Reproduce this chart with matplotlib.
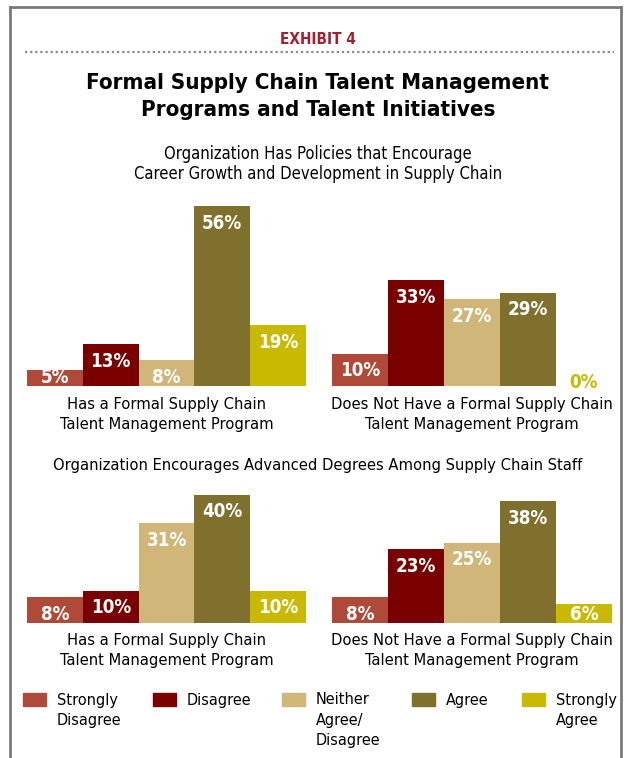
import numpy as np
import matplotlib.pyplot as plt
from matplotlib.patches import Rectangle
from matplotlib.lines import Line2D

plt.rcParams['font.family'] = 'DejaVu Sans'
plt.rcParams['font.stretch'] = 'condensed'

# responses
responses = ['Strongly\nDisagree', 'Disagree', 'Neither\nAgree/\nDisagree', 'Agree', 'Strongly\nAgree']
colors = ['#b04a38', '#7a0000', '#d0b679', '#80702e', '#c9b900']

groups = ['Has a Formal Supply Chain\nTalent Management Program',
          'Does Not Have a Formal Supply Chain\nTalent Management Program']

# Organization Has Policies that Encourage Career Growth ...
policies_has = [5, 13, 8, 56, 19]
policies_not = [10, 33, 27, 29, 0]
# Organization Encourages Advanced Degrees ...
degrees_has = [8, 10, 31, 40, 10]
degrees_not = [8, 23, 25, 38, 6]

W, H = 627, 758
fig = plt.figure(figsize=(W / 100, H / 100), dpi=100)


def fx(x):
    return x / W


def fy(y):
    return 1 - y / H


def lines(x, y, txt, step, **kw):
    # one text per line so the spacing is under control
    for k, s in enumerate(txt.split('\n')):
        fig.text(fx(x), fy(y + k * step), s, va='center', **kw)


# frame
fig.add_artist(Line2D([fx(10), fx(621)], [fy(7), fy(7)], color='#7a7a7a', lw=2))
fig.add_artist(Line2D([fx(10), fx(10)], [fy(7), 0], color='#7a7a7a', lw=2))
fig.add_artist(Line2D([fx(621), fx(621)], [fy(7), 0], color='#7a7a7a', lw=2))
# dotted rule
fig.add_artist(Line2D([fx(25), fx(614)], [fy(52), fy(52)], color='#8a8a8a', lw=1.6,
                      linestyle=(0, (1, 1.3))))

lines(318, 39, 'EXHIBIT 4', 20, ha='center', color='#a3202e', fontsize=11, fontweight='bold')
lines(318, 83, 'Formal Supply Chain Talent Management\nPrograms and Talent Initiatives', 27,
      ha='center', fontsize=16, fontweight='bold')
lines(318, 154, 'Organization Has Policies that Encourage\nCareer Growth and Development in Supply Chain', 20,
      ha='center', fontsize=11.9)
lines(318, 465, 'Organization Encourages Advanced Degrees Among Supply Chain Staff', 20,
      ha='center', fontsize=11.8)

px_per_pct = 3.21
ax_h = 200


def panel(x0, x1, base, vals, label):
    ax = fig.add_axes([fx(x0), fy(base), (x1 - x0) / W, ax_h / H])
    x = np.arange(len(vals))
    ax.bar(x, vals, width=1.0, color=colors)
    ax.set_xlim(-0.5, len(vals) - 0.5)
    ax.set_ylim(0, ax_h / px_per_pct)
    ax.axis('off')
    for i, v in enumerate(vals):
        if v == 0:
            ax.text(i, 1.0, f'{v}%', ha='center', va='center', color=colors[i],
                    fontsize=13.5, fontweight='bold')
        else:
            ax.text(i, max(v - 5.3, 2.8), f'{v}%', ha='center', va='center', color='white',
                    fontsize=13.5, fontweight='bold')
    lines((x0 + x1) / 2, base + 18, label, 20, ha='center', fontsize=11.8)


panel(27, 306, 386, policies_has, groups[0])
panel(332, 612, 386, policies_not, groups[1])
panel(27, 306, 623, degrees_has, groups[0])
panel(332, 612, 623, degrees_not, groups[1])

# legend
leg_x = [23, 153, 282, 412, 522]
for lx, name, c in zip(leg_x, responses, colors):
    fig.add_artist(Rectangle((fx(lx), fy(706)), 23 / W, 13 / H, color=c))
    lines(lx + 34, 700, name, 20, ha='left', fontsize=11.6)

fig.savefig('out.png', dpi=100)
